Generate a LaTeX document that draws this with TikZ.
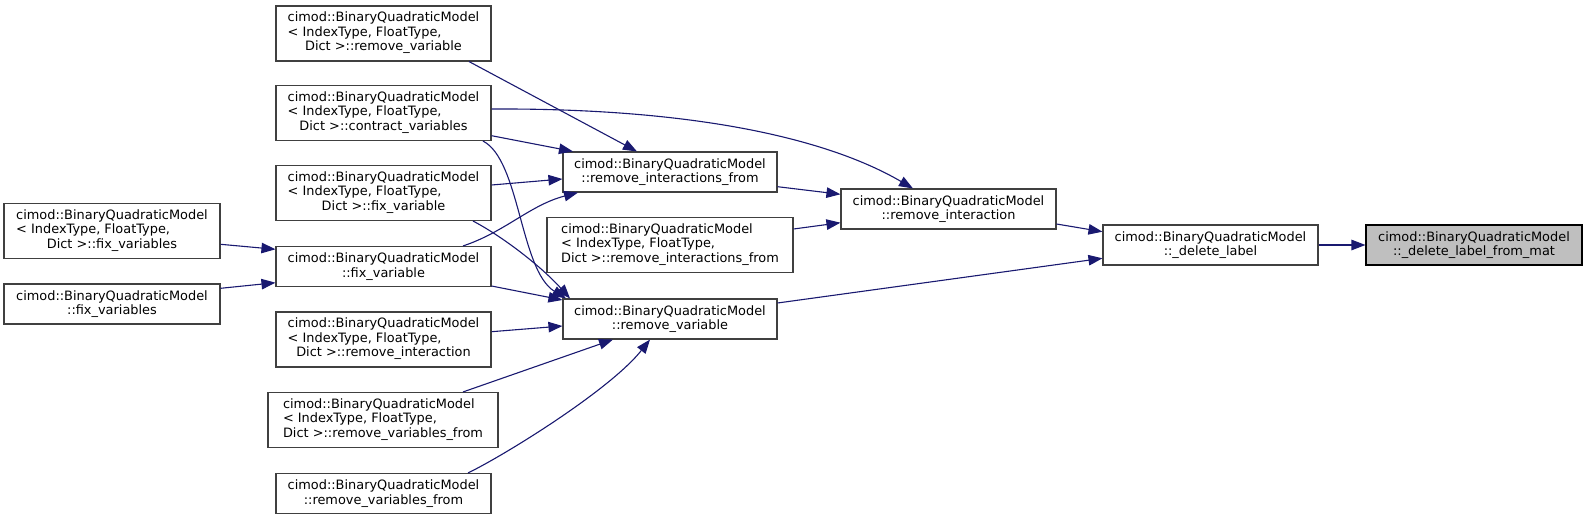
\documentclass[tikz,border=0pt]{standalone}
\usepackage{fontspec}
\setmainfont{DejaVu Sans}
\usetikzlibrary{arrows.meta}
\definecolor{edgeblue}{HTML}{191970}
\definecolor{boxline}{HTML}{404040}
\definecolor{startfill}{HTML}{BFBFBF}
\newcommand{\tlab}[1]{\begin{tabular}{@{}l@{}}cimod::BinaryQuadraticModel\\< IndexType, FloatType,\\\multicolumn{1}{@{}c@{}}{Dict >::#1}\end{tabular}}
\newcommand{\blab}[1]{cimod::BinaryQuadraticModel\\::#1}
\begin{document}
\begin{tikzpicture}[x=1pt,y=-1pt,
  fn/.style={draw=boxline, line width=1.1pt, fill=white, inner sep=0pt, align=center,
    font=\fontsize{12.9}{14.4}\selectfont, minimum width=215pt, minimum height=40pt},
  tall/.style={minimum height=55pt},
  call/.style={draw=edgeblue, line width=1.1pt, -{Triangle[length=14pt,width=10.5pt]}}]
\useasboundingbox (0,0) rectangle (1587,519);
% left column
\node[fn, tall, minimum width=216pt] (D) at (112,231) {\tlab{fix\_variables}};
\node[fn, minimum width=216pt] (F) at (112,304) {\blab{fix\_variables}};
% second column
\node[fn, tall] (A) at (383.5,33.5) {\tlab{remove\_variable}};
\node[fn, tall] (B) at (383.5,113) {\tlab{contract\_variables}};
\node[fn, tall] (C) at (383.5,193) {\tlab{fix\_variable}};
\node[fn] (E) at (383.5,266.5) {\blab{fix\_variable}};
\node[fn, tall] (G) at (383.5,339.5) {\tlab{remove\_interaction}};
\node[fn, tall, minimum width=230pt] (H) at (383,420) {\tlab{remove\_variables\_from}};
\node[fn] (I) at (383.5,493.5) {\blab{remove\_variables\_from}};
% third column
\node[fn, minimum width=214pt] (J) at (670,172) {\blab{remove\_interactions\_from}};
\node[fn, tall, minimum width=246pt] (K) at (670,245) {\tlab{remove\_interactions\_from}};
\node[fn, minimum width=214pt] (L) at (670,319) {\blab{remove\_variable}};
% fourth column
\node[fn] (M) at (948.5,209) {\blab{remove\_interaction}};
\node[fn] (N) at (1210.5,245) {\blab{\_delete\_label}};
\node[fn, fill=startfill, draw=black, minimum width=216pt] (O) at (1474,245) {\blab{\_delete\_label\_from\_mat}};
% edges
\draw[call] ([xshift=85.5pt]A.south) -- ([xshift=-33pt]J.north);
\draw[call] ([yshift=4pt]B.east) .. controls (700,108) and (830,140) .. ([xshift=-35.5pt]M.north);
\draw[call] ([yshift=-22.7pt]B.east) -- ([xshift=-97pt]J.north);
\draw[call] ([yshift=8pt]C.east) -- ([yshift=-7pt]J.west);
\draw[call] ([xshift=79.5pt]E.north) .. controls (505,232) and (530,205) .. ([xshift=-92pt]J.south);
\draw[call] ([xshift=99.5pt]B.south) .. controls (520,160) and (520,270) .. ([xshift=-104pt]L.north);
\draw[call] ([xshift=89.5pt]C.south) .. controls (500,235) and (540,265) .. ([xshift=-100pt]L.north);
\draw[call] ([yshift=-13.3pt]D.east) -- ([yshift=17.2pt]E.west);
\draw[call] ([yshift=15.7pt]F.east) -- ([yshift=-16.2pt]E.west);
\draw[call] ([yshift=-19.5pt]E.east) -- ([yshift=19pt]L.west);
\draw[call] ([yshift=7.8pt]G.east) -- ([yshift=-7pt]L.west);
\draw[call] ([xshift=80pt]H.north) -- ([xshift=-57pt]L.south);
\draw[call] ([xshift=84.5pt]I.north) .. controls (505,455) and (610,390) .. ([xshift=-20pt]L.south);
\draw[call] ([yshift=-14.7pt]J.east) -- ([yshift=14.7pt]M.west);
\draw[call] ([yshift=16pt]K.east) -- ([yshift=-13.7pt]M.west);
\draw[call] ([yshift=-15pt]M.east) -- ([yshift=13.3pt]N.west);
\draw[call] ([yshift=16pt]L.east) -- ([yshift=-13.3pt]N.west);
\draw[call] (N.east) -- (O.west);
\end{tikzpicture}
\end{document}
